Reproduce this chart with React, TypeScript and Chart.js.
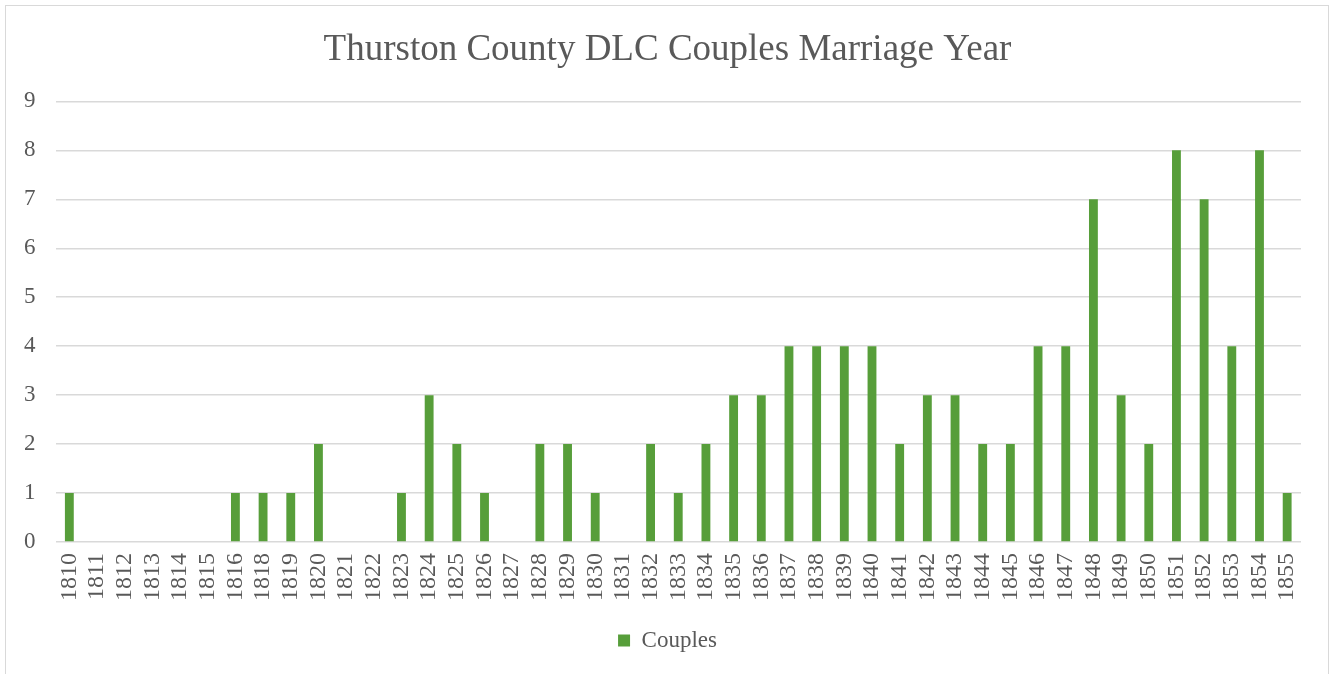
import React, { useEffect, useRef } from "react";
import { Chart, registerables } from "chart.js";

Chart.register(...registerables);

const years: string[] = [
  "1810", "1811", "1812", "1813", "1814", "1815", "1816", "1818", "1819", "1820",
  "1821", "1822", "1823", "1824", "1825", "1826", "1827", "1828", "1829", "1830",
  "1831", "1832", "1833", "1834", "1835", "1836", "1837", "1838", "1839", "1840",
  "1841", "1842", "1843", "1844", "1845", "1846", "1847", "1848", "1849", "1850",
  "1851", "1852", "1853", "1854", "1855",
];

const couples: number[] = [
  1, 0, 0, 0, 0, 0, 1, 1, 1, 2,
  0, 0, 1, 3, 2, 1, 0, 2, 2, 1,
  0, 2, 1, 2, 3, 3, 4, 4, 4, 4,
  2, 3, 3, 2, 2, 4, 4, 7, 3, 2,
  8, 7, 4, 8, 1,
];

const titleText = "Thurston County DLC Couples Marriage Year";
const seriesName = "Couples";

const FONT = "'Liberation Serif', 'Times New Roman', serif";
const TEXT = "#595959";
const GRID = "#d9d9d9";
const BAR = "#579e3a";

export default function App() {
  const ref = useRef<HTMLCanvasElement | null>(null);

  useEffect(() => {
    const canvas = ref.current;
    if (!canvas) return;
    const chart = new Chart(canvas, {
      type: "bar",
      data: {
        labels: years,
        datasets: [
          {
            label: seriesName,
            data: couples,
            backgroundColor: BAR,
            borderWidth: 0,
            barPercentage: 0.32,
            categoryPercentage: 1,
            yAxisID: "y",
          },
        ],
      },
      options: {
        responsive: false,
        animation: false,
        layout: { padding: { left: 4, right: 0, top: 0, bottom: 12 } },
        plugins: {
          title: {
            display: true,
            text: titleText,
            color: TEXT,
            font: { family: FONT, size: 37, weight: "normal" },
            padding: { top: 28, bottom: 29 },
          },
          legend: {
            display: true,
            position: "bottom",
            labels: {
              color: TEXT,
              font: { family: FONT, size: 23 },
              boxWidth: 12,
              boxHeight: 12,
              padding: 17,
            },
          },
          tooltip: { enabled: false },
        },
        scales: {
          x: {
            grid: { display: false, drawTicks: false },
            border: { display: false },
            ticks: {
              color: TEXT,
              font: { family: FONT, size: 24 },
              minRotation: 90,
              maxRotation: 90,
              autoSkip: false,
              padding: 11,
            },
          },
          y: {
            min: 0,
            max: 9,
            grid: { color: GRID, lineWidth: 1.5, drawTicks: false },
            border: { display: false },
            ticks: {
              stepSize: 1,
              color: TEXT,
              font: { family: FONT, size: 23 },
              padding: 20,
            },
          },
          yRightSpace: {
            position: "right",
            display: true,
            grid: { display: false, drawTicks: false },
            border: { display: false },
            ticks: { display: false },
            afterFit: (scale: any) => {
              scale.width = 30;
            },
          },
        },
      },
    });
    return () => chart.destroy();
  }, []);

  return (
    <div style={{ position: "absolute", left: 0, top: 0, width: 1331, height: 674, background: "#fff", overflow: "hidden" }}>
      <div
        style={{
          position: "absolute",
          left: 5,
          top: 5,
          width: 1324,
          height: 700,
          border: "1.5px solid #d9d9d9",
          boxSizing: "border-box",
        }}
      />
      <canvas ref={ref} width={1331} height={674} style={{ position: "absolute", left: 0, top: 0 }} />
    </div>
  );
}
